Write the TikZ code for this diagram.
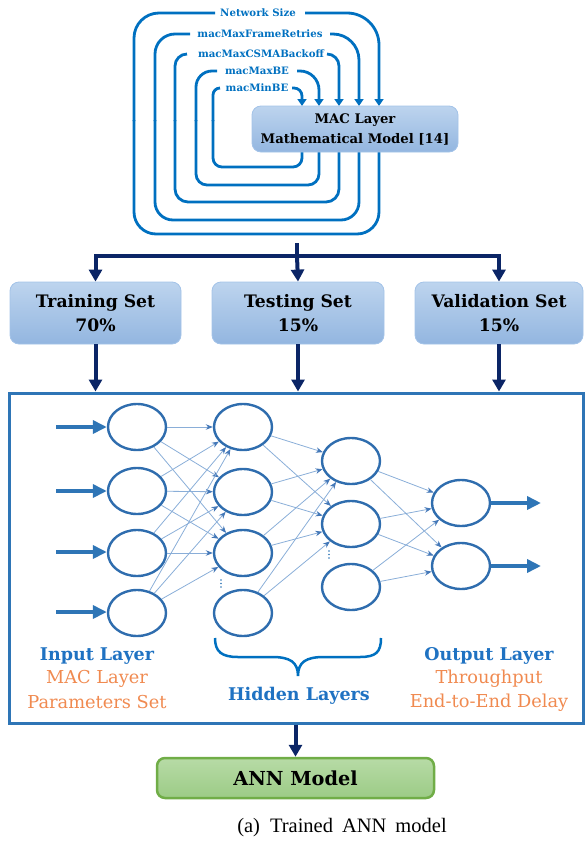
\documentclass[tikz,border=0pt]{standalone}
\usepackage{fontspec}
\setmainfont{DejaVu Serif}
\newfontfamily\capfont{Liberation Serif}
\usetikzlibrary{arrows.meta,shapes.geometric}
\definecolor{loopblue}{HTML}{0070C0}
\definecolor{navyc}{HTML}{0B2566}
\definecolor{boxtop}{HTML}{BDD4EE}
\definecolor{boxbot}{HTML}{93B6E0}
\definecolor{boxedge}{HTML}{A3C3E8}
\definecolor{framec}{HTML}{2E75B6}
\definecolor{nodec}{HTML}{2F6DAE}
\definecolor{edgec}{HTML}{8AAED8}
\definecolor{tipc}{HTML}{4478B8}
\definecolor{labblue}{HTML}{1F72C2}
\definecolor{laborange}{HTML}{F08A50}
\definecolor{anntop}{HTML}{B7DBA6}
\definecolor{annbot}{HTML}{9CCB86}
\definecolor{annedge}{HTML}{70AD47}
\tikzset{
  loopline/.style={draw=loopblue, line width=2.8pt},
  looptip/.style={-{Triangle[length=7pt,width=9pt]}},
  looplabel/.style={text=loopblue, font=\fontsize{10.2}{12}\selectfont\bfseries, inner sep=0pt},
  setbox/.style={rounded corners=9pt, top color=boxtop, bottom color=boxbot, draw=boxedge, line width=0.8pt,
     align=center, font=\fontsize{17.2}{24}\selectfont\bfseries},
  navyarrow/.style={draw=navyc, line width=4pt, -{Triangle[length=12pt,width=13pt]}},
  navyline/.style={draw=navyc, line width=4pt},
  nn/.style={ellipse, draw=nodec, line width=2.4pt, fill=white, minimum width=58pt, minimum height=46pt, inner sep=0pt},
  conn/.style={draw=edgec, line width=0.8pt, -{Stealth[length=7pt,width=5.5pt,color=tipc]}},
  thickarrow/.style={draw=framec, line width=4.5pt, -{Triangle[length=14pt,width=13pt]}},
  bluelab/.style={text=labblue, font=\fontsize{17.5}{20}\selectfont\bfseries, inner sep=0pt},
  orangelab/.style={text=laborange, font=\fontsize{17.8}{20}\selectfont, inner sep=0pt},
}
\begin{document}
\begin{tikzpicture}[x=1pt,y=-1pt]
\useasboundingbox (0,0) rectangle (584,843);

% ---------- loops ----------
% labels
\node[looplabel] (l1) at (258,13) {Network Size};
\node[looplabel] (l2) at (260,34) {macMaxFrameRetries};
\node[looplabel] (l3) at (261,54) {macMaxCSMABackoff};
\node[looplabel] (l4) at (257,71) {macMaxBE};
\node[looplabel] (l5) at (257,88) {macMinBE};

% loop 1
\draw[loopline, rounded corners=22pt] (379,130) -- (379,234) -- (134,234) -- (134,120);
\draw[loopline, rounded corners=25pt] (134,121) -- (134,13) -- (215,13);
\draw[loopline, looptip, rounded corners=32pt] (305,13) -- (379,13) -- (379,106);
% loop 2
\draw[loopline, rounded corners=18pt] (359,130) -- (359,220) -- (155,220) -- (155,120);
\draw[loopline, rounded corners=20pt] (155,121) -- (155,34) -- (190,34);
\draw[loopline, looptip, rounded corners=26pt] (330,34) -- (359,34) -- (359,106);
% loop 3
\draw[loopline, rounded corners=13pt] (339,130) -- (339,202) -- (175,202) -- (175,120);
\draw[loopline, rounded corners=12pt] (175,121) -- (175,54) -- (187,54);
\draw[loopline, looptip, rounded corners=12pt] (327,54) -- (339,54) -- (339,106);
% loop 4
\draw[loopline, rounded corners=11pt] (319,130) -- (319,185) -- (196,185) -- (196,120);
\draw[loopline, rounded corners=16pt] (196,121) -- (196,71) -- (217,71);
\draw[loopline, looptip, rounded corners=19pt] (297,71) -- (319,71) -- (319,106);
% loop 5
\draw[loopline, rounded corners=9pt] (302,130) -- (302,167) -- (213,167) -- (213,120);
\draw[loopline, rounded corners=7pt] (213,121) -- (213,88) -- (220,88);
\draw[loopline, looptip, rounded corners=8pt] (292,88) -- (302,88) -- (302,106);

\node[setbox, font=\fontsize{13.2}{20}\selectfont\bfseries, minimum width=206pt, minimum height=46pt] (mac) at (355,129)
  {MAC Layer\\Mathematical Model [14]};

% ---------- split ----------
\node[setbox, minimum width=171pt, minimum height=62pt] (train) at (95.5,313) {Training Set\\70\%};
\node[setbox, minimum width=172pt, minimum height=62pt] (test) at (298,313) {Testing Set\\15\%};
\node[setbox, minimum width=168pt, minimum height=62pt] (valid) at (499,313) {Validation Set\\15\%};

\coordinate (s0) at (297,243);
\coordinate (sj) at (297,256);
\draw[navyline] (s0) -- (sj);
\draw[navyarrow] (sj) -- (test.north);
\draw[navyarrow, line join=miter] (sj) -| (train.north);
\draw[navyarrow, line join=miter] (sj) -| (valid.north);

% ---------- frame ----------
\node[draw=framec, line width=3pt, minimum width=574pt, minimum height=330pt, inner sep=0pt] (frame) at (296,558) {};
\draw[navyarrow] (train.south) -- (train.south |- frame.north);
\draw[navyarrow] (test.south) -- (test.south |- frame.north);
\draw[navyarrow] (valid.south) -- (valid.south |- frame.north);

% ---------- network ----------
\node[nn] (i1) at (137,427) {};
\node[nn] (i2) at (137,491) {};
\node[nn] (i3) at (137,553) {};
\node[nn] (i4) at (137,613) {};
\node[nn] (h1) at (243,427) {};
\node[nn] (h2) at (243,492) {};
\node[nn] (h3) at (243,553) {};
\node[nn] (h4) at (243,613) {};
\node[nn] (g1) at (351,461) {};
\node[nn] (g2) at (351,524) {};
\node[nn] (g3) at (351,587) {};
\node[nn] (o1) at (461,503) {};
\node[nn] (o2) at (461,566) {};

\foreach \a in {1,...,4} \foreach \b in {1,2,3} \draw[conn] (i\a) -- (h\b);
\foreach \a in {1,...,4} \foreach \b in {1,2} \draw[conn] (h\a) -- (g\b);
\foreach \a in {1,2,3} \foreach \b in {1,2} \draw[conn] (g\a) -- (o\b);

\foreach \k/\yy in {1/427,2/491,3/552,4/612} {
  \coordinate (in\k) at (56,\yy);
  \draw[thickarrow] (in\k) -- (i\k.west |- in\k);
}
\coordinate (out1) at (541,503);
\coordinate (out2) at (541,566);
\draw[thickarrow] (o1.east) -- (out1);
\draw[thickarrow] (o2.east) -- (out2);

\foreach \yy in {580,583.5,587} \fill[framec] (221,\yy) circle (0.9pt);
\foreach \yy in {551,554.5,558} \fill[framec] (329,\yy) circle (0.9pt);

% brace
\draw[draw=loopblue, line width=2.5pt]
  (215,638) .. controls (215,652) and (222,657) .. (238,657) -- (272,657)
  .. controls (290,657) and (298,662) .. (298,676)
  .. controls (298,662) and (306,657) .. (324,657) -- (360,657)
  .. controls (376,657) and (381,652) .. (381,638);

% labels
\node[bluelab] (inlab) at (97,656) {Input Layer};
\node[orangelab] (inl2) at (97,679) {MAC Layer};
\node[orangelab] (inl3) at (97,702) {Parameters Set};
\node[bluelab] (hidlab) at (299,696) {Hidden Layers};
\node[bluelab] (outlab) at (489,656) {Output Layer};
\node[orangelab] (outl2) at (489,679) {Throughput};
\node[orangelab] (outl3) at (489,703) {End-to-End Delay};

% ANN model
\node[rounded corners=8pt, top color=anntop, bottom color=annbot, draw=annedge, line width=2.5pt,
  minimum width=277pt, minimum height=40pt, font=\fontsize{19.3}{24}\selectfont\bfseries] (ann) at (295.5,778) {ANN Model};
\draw[navyarrow] (ann.north |- frame.south) -- (ann.north);

% caption
\node[font=\capfont\fontsize{20.5}{24}\selectfont, inner sep=0pt] (cap) at (342,828)
  {(a)\hspace{10pt}Trained\hspace{9pt}ANN\hspace{9pt}model};
\end{tikzpicture}
\end{document}
